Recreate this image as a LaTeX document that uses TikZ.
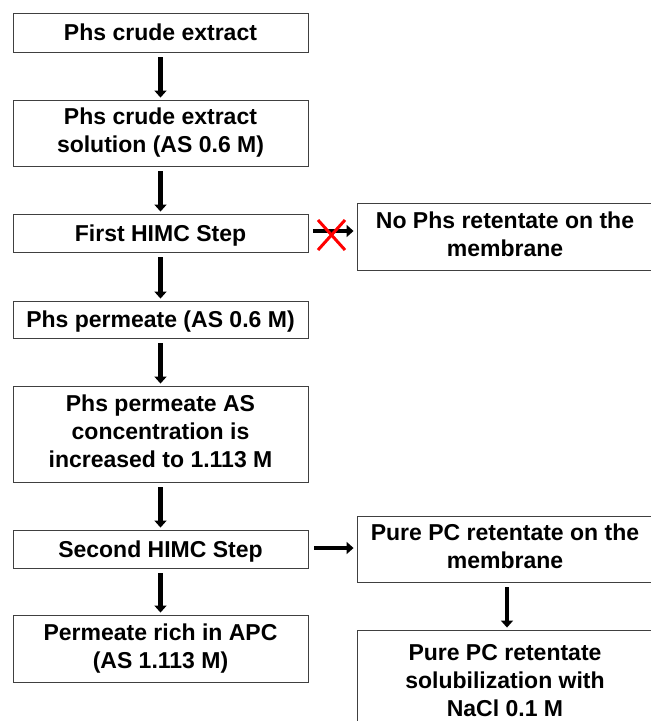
\documentclass[tikz,border=0pt]{standalone}
\usepackage{fontspec}
\setmainfont{Liberation Sans}
\usetikzlibrary{arrows.meta}
\newcommand\linestrut{\rule[-5.5pt]{0pt}{27.5pt}}
\begin{document}
\begin{tikzpicture}[x=1pt,y=-1pt,
  box/.style={draw=black!75,line width=0.9pt,align=center,inner sep=0pt,
    font=\fontsize{23}{28}\selectfont\bfseries,minimum width=295pt,
    execute at begin node=\linestrut, execute at end node=\linestrut},
  rbox/.style={box,minimum width=296pt},
  arr/.style={line width=4.5pt,-{Triangle[width=12pt,length=7pt]}},
  cross/.style={red,line width=3pt}]
\useasboundingbox (0,0) rectangle (651,721);
\node[box,minimum height=39pt] (b1) at (160.5,32.5) {Phs crude extract};
\node[box,minimum height=66pt] (b2) at (160.5,133) {Phs crude extract\\solution (AS 0.6 M)};
\node[box,minimum height=38pt] (b3) at (160.5,233) {First HIMC Step};
\node[rbox,minimum height=67pt] (b4) at (505,236.5) {No Phs retentate on the\\membrane};
\node[box,minimum height=37pt] (b5) at (160.5,319.5) {Phs permeate (AS 0.6 M)};
\node[box,minimum height=96pt] (b6) at (160.5,434) {Phs permeate AS\\concentration is\\increased to 1.113 M};
\node[box,minimum height=38pt] (b7) at (160.5,549) {Second HIMC Step};
\node[rbox,minimum height=66pt] (b8) at (505,549) {Pure PC retentate on the\\membrane};
\node[box,minimum height=67pt] (b9) at (160.5,648.5) {Permeate rich in APC\\(AS 1.113 M)};
\node[rbox,minimum height=106pt] (b10) at (505,683) {Pure PC retentate\\solubilization with\\NaCl 0.1 M};
\foreach \a/\b in {b1/b2,b2/b3,b3/b5,b5/b6,b6/b7,b7/b9}
  \draw[arr,shorten <=5pt,shorten >=2pt] (\a.south) -- (\b.north);
\draw[arr,shorten <=5pt,shorten >=2pt] (b8.south -| 507,0) -- (b10.north -| 507,0);
\coordinate (h1s) at ([xshift=5pt,yshift=2pt]b3.east);
\draw[arr] (h1s) -- ([xshift=-3pt]h1s -| b4.west);
\coordinate (xc) at (331.5,235);
\draw[cross] ([shift={(-13.5,-15)}]xc) -- ([shift={(13.5,15)}]xc);
\draw[cross] ([shift={(13.5,-15)}]xc) -- ([shift={(-13.5,15)}]xc);
\coordinate (h2s) at ([xshift=6pt,yshift=1pt]b7.east);
\draw[arr] (h2s) -- ([xshift=-3pt]h2s -| b8.west);
\end{tikzpicture}
\end{document}
